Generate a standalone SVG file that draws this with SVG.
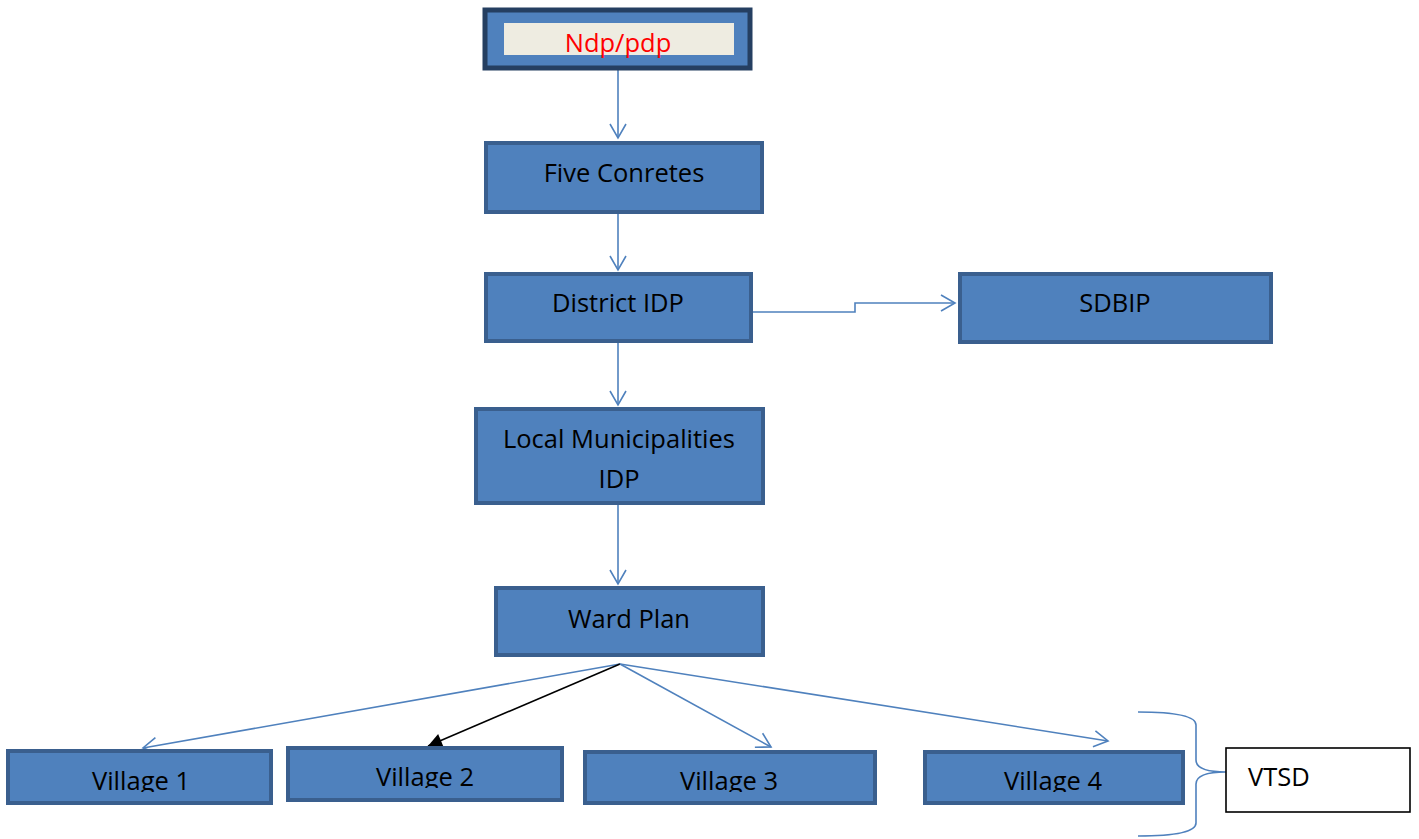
<svg xmlns="http://www.w3.org/2000/svg" width="1419" height="839" viewBox="0 0 1419 839">
<style>
.box{fill:#4F81BD;stroke:#3A5F8E;stroke-width:4}
.t{font-family:"Open Sans","Liberation Sans",Arial,sans-serif;font-size:25.5px;fill:#000;text-anchor:middle}
.c{fill:none;stroke:#4F81BD;stroke-width:1.6}
</style>
<defs>
<marker id="open" markerUnits="userSpaceOnUse" markerWidth="20" markerHeight="20" viewBox="0 0 20 20" refX="17" refY="10" orient="auto">
<path d="M3,2 L17,10 L3,18" fill="none" stroke="#4F81BD" stroke-width="1.6"/>
</marker>
<marker id="solid" markerUnits="userSpaceOnUse" markerWidth="20" markerHeight="20" viewBox="0 0 20 20" refX="16" refY="10" orient="auto">
<path d="M2,3 L16,10 L2,17 Z" fill="#000"/>
</marker>
<clipPath id="cv1"><rect x="0" y="740" width="280" height="52"/></clipPath>
<clipPath id="cv2"><rect x="280" y="740" width="290" height="48"/></clipPath>
<clipPath id="cv3"><rect x="580" y="740" width="300" height="52"/></clipPath>
<clipPath id="cv4"><rect x="920" y="740" width="270" height="52"/></clipPath>
</defs>

<g id="connectors">
<line class="c" x1="618" y1="70" x2="618" y2="138" marker-end="url(#open)"/>
<line class="c" x1="618" y1="213" x2="618" y2="270" marker-end="url(#open)"/>
<polyline class="c" points="752,312 855,312 855,303 955,303" marker-end="url(#open)"/>
<line class="c" x1="618" y1="342" x2="618" y2="405" marker-end="url(#open)"/>
<line class="c" x1="618" y1="504" x2="618" y2="584" marker-end="url(#open)"/>
<line class="c" x1="620" y1="664" x2="143" y2="748" marker-end="url(#open)"/>
<line x1="620" y1="664" x2="428" y2="746" stroke="#000" stroke-width="1.6" marker-end="url(#solid)"/>
<line class="c" x1="620" y1="664" x2="771" y2="747" marker-end="url(#open)"/>
<line class="c" x1="620" y1="664" x2="1108" y2="741" marker-end="url(#open)"/>
<path class="c" d="M1138,712 Q1196,712 1196,725 L1196,760 Q1196,772 1226,772 Q1196,772 1196,784 L1196,823 Q1196,836 1138,836"/>
</g>

<g id="ndp">
<rect x="485" y="10" width="265" height="58" fill="#4F81BD" stroke="#253F61" stroke-width="5"/>
<rect x="504" y="23" width="230" height="32" fill="#EEECE1"/>
<text class="t" x="618" y="52" style="fill:#FF0000">Ndp/pdp</text>
</g>

<g id="five">
<rect class="box" x="486" y="143" width="276" height="69"/>
<text class="t" x="624" y="182">Five Conretes</text>
</g>

<g id="district">
<rect class="box" x="486" y="274" width="265" height="67"/>
<text class="t" x="618" y="312">District IDP</text>
</g>

<g id="sdbip">
<rect class="box" x="960" y="274" width="311" height="68"/>
<text class="t" x="1115" y="312">SDBIP</text>
</g>

<g id="local">
<rect class="box" x="476" y="409" width="287" height="94"/>
<text class="t" x="619" y="448">Local Municipalities</text>
<text class="t" x="619" y="488">IDP</text>
</g>

<g id="ward">
<rect class="box" x="496" y="588" width="267" height="67"/>
<text class="t" x="629" y="628">Ward Plan</text>
</g>

<g id="village1">
<rect class="box" x="8" y="751" width="263" height="52"/>
<text class="t" x="141" y="790" clip-path="url(#cv1)">Village 1</text>
</g>

<g id="village2">
<rect class="box" x="288" y="748" width="274" height="52"/>
<text class="t" x="425" y="786" clip-path="url(#cv2)">Village 2</text>
</g>

<g id="village3">
<rect class="box" x="585" y="752" width="290" height="51"/>
<text class="t" x="729" y="790" clip-path="url(#cv3)">Village 3</text>
</g>

<g id="village4">
<rect class="box" x="925" y="752" width="258" height="51"/>
<text class="t" x="1053" y="790" clip-path="url(#cv4)">Village 4</text>
</g>

<g id="vtsd">
<rect x="1226" y="748" width="184" height="64" fill="#FFFFFF" stroke="#000" stroke-width="1.6"/>
<text class="t" x="1248" y="786" style="text-anchor:start">VTSD</text>
</g>
</svg>
